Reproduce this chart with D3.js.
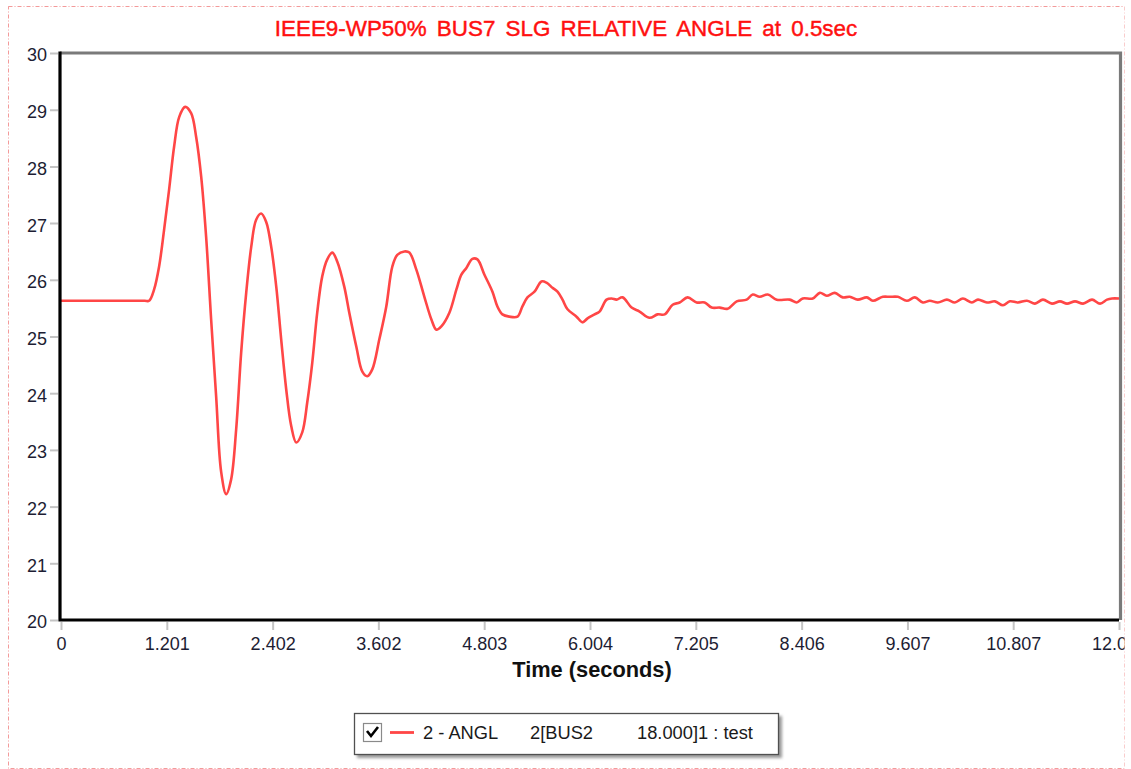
<!DOCTYPE html>
<html>
<head>
<meta charset="utf-8">
<script src="https://cdn.jsdelivr.net/npm/d3@7"></script>
<style>
  html, body { margin: 0; padding: 0; background: #fff; }
  svg { display: block; font-family: "Liberation Sans", Arial, sans-serif; }
</style>
</head>
<body>
<svg id="chart" width="1131" height="769"></svg>
<script>
// Simulation output: relative bus angle (degrees) versus time (seconds)
const timeSec = [
  0, 0.25, 0.50, 0.75, 0.95, 1.000, 1.057, 1.113, 1.170, 1.227, 1.284, 1.341, 1.409, 1.477, 1.534, 1.591, 1.647,
  1.704, 1.761, 1.818, 1.875, 1.931, 1.988, 2.045, 2.102, 2.159, 2.215, 2.272, 2.329,
  2.386, 2.443, 2.499, 2.556, 2.613, 2.670, 2.738, 2.795, 2.852, 2.908, 2.965, 3.022,
  3.079, 3.136, 3.215, 3.272, 3.352, 3.420, 3.476, 3.533, 3.613, 3.692, 3.760, 3.817,
  3.897, 3.954, 4.033, 4.124, 4.204, 4.260, 4.317, 4.408, 4.488, 4.544, 4.601, 4.669,
  4.726, 4.806, 4.897, 4.953, 5.010, 5.090, 5.181, 5.237, 5.294, 5.374, 5.453, 5.510,
  5.578, 5.635, 5.692, 5.749, 5.851, 5.919, 5.976, 6.056, 6.112, 6.192, 6.249, 6.305,
  6.374, 6.476, 6.567, 6.680, 6.771, 6.851, 6.942, 7.021, 7.112, 7.214, 7.305, 7.385,
  7.476, 7.566, 7.669, 7.782, 7.851, 7.930, 8.021, 8.123, 8.271, 8.350, 8.419, 8.532,
  8.612, 8.691, 8.782, 8.873, 8.952, 9.043, 9.146, 9.214, 9.327, 9.407, 9.498, 9.600,
  9.691, 9.782, 9.861, 9.952, 10.055, 10.145, 10.236, 10.339, 10.407, 10.509, 10.600,
  10.691, 10.770, 10.861, 10.963, 11.054, 11.145, 11.247, 11.338, 11.418, 11.509,
  11.600, 11.702, 11.793, 11.872, 11.929, 12.008
];
const angleDeg = [
  25.63, 25.63, 25.63, 25.63, 25.63, 25.63, 25.83, 26.23, 26.88, 27.59, 28.35, 28.87, 29.05, 28.94, 28.52, 27.82, 26.76,
  25.30, 23.94, 22.61, 22.22, 22.48, 23.36, 24.72, 25.77, 26.58, 27.06, 27.17, 27.02,
  26.58, 25.88, 24.95, 24.07, 23.42, 23.13, 23.31, 23.84, 24.54, 25.42, 26.06, 26.36,
  26.48, 26.32, 25.88, 25.42, 24.82, 24.38, 24.30, 24.42, 24.95, 25.53, 26.23, 26.44,
  26.50, 26.48, 26.18, 25.70, 25.30, 25.12, 25.18, 25.42, 25.83, 26.09, 26.21, 26.37,
  26.36, 26.09, 25.79, 25.53, 25.39, 25.35, 25.35, 25.53, 25.69, 25.79, 25.97, 25.95,
  25.86, 25.79, 25.65, 25.48, 25.35, 25.25, 25.32, 25.39, 25.44, 25.65, 25.67, 25.65,
  25.69, 25.51, 25.44, 25.33, 25.39, 25.39, 25.56, 25.60, 25.69, 25.60, 25.60, 25.51,
  25.51, 25.49, 25.62, 25.65, 25.74, 25.70, 25.74, 25.65, 25.65, 25.60, 25.67, 25.67,
  25.77, 25.72, 25.77, 25.69, 25.70, 25.65, 25.69, 25.63, 25.70, 25.70, 25.70, 25.63,
  25.69, 25.60, 25.63, 25.60, 25.65, 25.60, 25.67, 25.60, 25.65, 25.60, 25.62,
  25.55, 25.62, 25.60, 25.63, 25.58, 25.65, 25.58, 25.62, 25.58, 25.62,
  25.58, 25.65, 25.58, 25.65, 25.67, 25.67
];

const xTickValues = [0, 1.201, 2.402, 3.602, 4.803, 6.004, 7.205, 8.406, 9.607, 10.807, 12.008];
const xTickLabels = ["0", "1.201", "2.402", "3.602", "4.803", "6.004", "7.205", "8.406", "9.607", "10.807", "12.008"];
const yTickValues = [20, 21, 22, 23, 24, 25, 26, 27, 28, 29, 30];

const titleText = "IEEE9-WP50% BUS7 SLG RELATIVE ANGLE at 0.5sec";
const xLabelText = "Time (seconds)";
const legendFields = ["2 - ANGL", "2[BUS2", "18.000]1 : test"];

const svg = d3.select("#chart");
const defs = svg.append("defs");

// Whole chart is clipped to its dashed outer frame
defs.append("clipPath").attr("id", "frameClip")
  .append("rect").attr("x", 8).attr("y", 6).attr("width", 1116.5).attr("height", 763);
const root = svg.append("g").attr("clip-path", "url(#frameClip)");

const x = d3.scaleLinear().domain([0, 12.008]).range([61, 1119]);
const y = d3.scaleLinear().domain([20, 30]).range([620, 53]);

// Dashed outer frame
root.append("rect")
  .attr("x", 8.5).attr("y", 6.5).attr("width", 1116).attr("height", 762)
  .attr("fill", "none").attr("stroke", "#f39a9a").attr("stroke-width", 1)
  .attr("stroke-dasharray", "4,2,1,2");

// Title
root.append("text")
  .attr("x", 566).attr("y", 36)
  .attr("text-anchor", "middle")
  .attr("fill", "#ff1010").attr("stroke", "#ff1010").attr("stroke-width", 0.45)
  .attr("font-size", 22.4).attr("word-spacing", 4)
  .text(titleText);

// Plot frame: grey top/right edges, black left/bottom edges
const [xLeft, xRight] = x.range();
const yBottom = y(20), yTop = y(30);
root.append("path")
  .attr("d", `M${xLeft - 1},${yTop} H${xRight + 1.5} V${yBottom}`)
  .attr("fill", "none").attr("stroke", "#7a7a7a").attr("stroke-width", 3.2);

// Series line
const line = d3.line()
  .x((d, i) => x(timeSec[i]))
  .y(d => y(d))
  .curve(d3.curveCatmullRom.alpha(0.5));
root.append("path")
  .datum(angleDeg)
  .attr("d", line)
  .attr("fill", "none")
  .attr("stroke", "#ff4646")
  .attr("stroke-width", 2.6)
  .attr("stroke-linejoin", "round");

// Axes
const yAxis = d3.axisLeft(y).tickValues(yTickValues).tickFormat(d3.format("d"))
  .tickSize(8).tickPadding(3);
const gy = root.append("g").attr("transform", "translate(58,0)").call(yAxis);
gy.select(".domain").remove();
gy.selectAll(".tick line").attr("stroke", "#c4c4c4").attr("stroke-width", 2);
gy.selectAll(".tick text").attr("font-size", 18).attr("fill", "#1d1d33")
  .attr("font-family", "Liberation Sans, Arial, sans-serif").attr("dy", "0.44em");

const xAxis = d3.axisBottom(x).tickValues(xTickValues)
  .tickFormat((d, i) => xTickLabels[i]).tickSize(8).tickPadding(7);
const gx = root.append("g").attr("transform", "translate(0,622)").call(xAxis);
gx.select(".domain").remove();
gx.selectAll(".tick line").attr("stroke", "#c4c4c4").attr("stroke-width", 2);
gx.selectAll(".tick text").attr("font-size", 18).attr("fill", "#1d1d33")
  .attr("font-family", "Liberation Sans, Arial, sans-serif");

root.append("path")
  .attr("d", `M${xLeft - 1},${yTop - 1.5} V${yBottom} H${xRight}`)
  .attr("fill", "none").attr("stroke", "#000").attr("stroke-width", 3.2);

// X axis title
root.append("text")
  .attr("x", 592).attr("y", 677)
  .attr("text-anchor", "middle")
  .attr("font-size", 21.8).attr("font-weight", "bold").attr("fill", "#111")
  .text(xLabelText);

// Legend
const lg = root.append("g");
const blur = defs.append("filter").attr("id", "legendShadow")
  .attr("x", "-5%").attr("y", "-20%").attr("width", "110%").attr("height", "150%");
blur.append("feGaussianBlur").attr("stdDeviation", 1.6);
lg.append("rect").attr("x", 357).attr("y", 716).attr("width", 425).attr("height", 42)
  .attr("fill", "#9a9a9a").attr("filter", "url(#legendShadow)");
lg.append("rect").attr("x", 354.5).attr("y", 713.5).attr("width", 424).attr("height", 41)
  .attr("fill", "#fff").attr("stroke", "#505050").attr("stroke-width", 1.3);
// checkbox
lg.append("rect").attr("x", 363.5).attr("y", 723.5).attr("width", 18).attr("height", 18)
  .attr("fill", "#fff").attr("stroke", "#8a8a8a").attr("stroke-width", 1.2);
lg.append("path").attr("d", "M367,731 L371,736 L378,727")
  .attr("fill", "none").attr("stroke", "#000").attr("stroke-width", 2.6);
// swatch
lg.append("line").attr("x1", 390).attr("x2", 414).attr("y1", 732.5).attr("y2", 732.5)
  .attr("stroke", "#ff4646").attr("stroke-width", 2.8);
const legendX = [423, 530, 637];
lg.selectAll("text.leg").data(legendFields).join("text")
  .attr("class", "leg")
  .attr("x", (d, i) => legendX[i]).attr("y", 739)
  .attr("font-size", 18.3).attr("fill", "#1a1a1a")
  .text(d => d);
</script>
</body>
</html>
